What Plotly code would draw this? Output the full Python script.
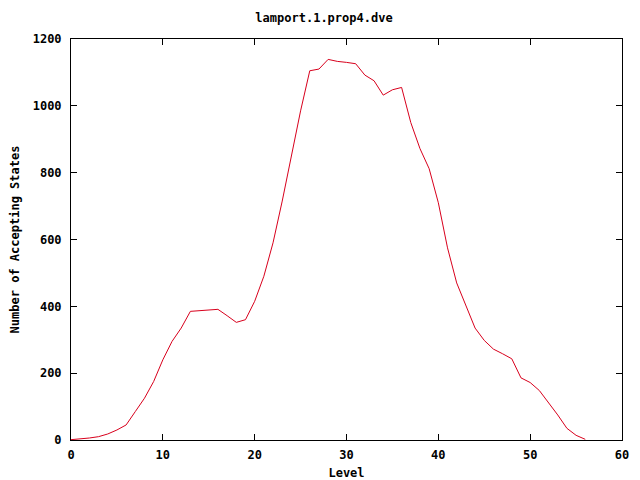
import plotly.graph_objects as go

levels = list(range(0, 57))
accepting = [1, 3, 6, 10, 18, 30, 45, 85, 125, 175,
             240, 295, 335, 385, 387, 388, 391, 372, 352, 360,
             415, 490, 590, 715, 855, 985, 1105, 1110, 1139, 1133,
             1130, 1126, 1092, 1075, 1032, 1048, 1055, 950, 872, 812,
             710, 575, 470, 400, 335, 298, 272, 258, 243, 186,
             172, 148, 112, 75, 35, 14, 2]

title_text = "lamport.1.prop4.dve"
x_title = "Level"
y_title = "Number of Accepting States"
x_ticks = [0, 10, 20, 30, 40, 50, 60]
y_ticks = [0, 200, 400, 600, 800, 1000, 1200]

font_family = "DejaVu Sans Mono"

# page body has an 8px default margin, so the figure is sized/offset to fit
W, H = 632, 472

fig = go.Figure()
fig.add_trace(go.Scatter(x=levels, y=accepting, mode="lines",
                         line=dict(color="#d8001c", width=1),
                         showlegend=False))

axis_common = dict(showline=True, linecolor="black", linewidth=1, mirror="ticks",
                   ticks="inside", ticklen=6, tickcolor="black", tickwidth=1,
                   showgrid=False, zeroline=False, automargin=False,
                   tickfont=dict(family=font_family, size=12, color="black"))

fig.update_xaxes(range=[0, 60], tickvals=x_ticks, ticktext=[str(v) for v in x_ticks],
                 ticklabelstandoff=4,
                 title=dict(text="<b>" + x_title + "</b>", standoff=7,
                            font=dict(family=font_family, size=12, color="black")),
                 **axis_common)
fig.update_yaxes(range=[0, 1200], tickvals=y_ticks, ticktext=[str(v) for v in y_ticks],
                 ticklabelstandoff=6,
                 title=dict(text="<b>" + y_title + "</b>", standoff=12,
                            font=dict(family=font_family, size=12, color="black")),
                 **axis_common)

fig.update_layout(
    width=W, height=H,
    margin=dict(l=63, r=18, t=31, b=40),
    paper_bgcolor="white", plot_bgcolor="white",
    font=dict(family=font_family, size=12, color="black", weight="bold"),
    title=dict(text="<b>" + title_text + "</b>", x=0.5, xanchor="center",
               y=1 - 10 / H, yanchor="middle", automargin=False,
               font=dict(family=font_family, size=12, color="black")),
)

fig.write_html("out.html")
